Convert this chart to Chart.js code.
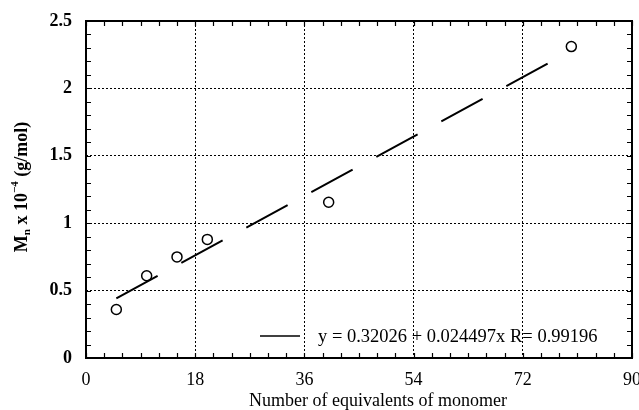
<!DOCTYPE html>
<html>
<head>
<meta charset="utf-8">
<script src="https://cdn.jsdelivr.net/npm/chart.js@4"></script>
<style>
  html, body { margin: 0; padding: 0; background: #fff; }
  #wrap { width: 639px; height: 410px; }
</style>
</head>
<body>
<div id="wrap"><canvas id="c" width="639" height="410"></canvas></div>
<script>
// ---- data ----
const equivalents = [5, 10, 15, 20, 40, 80];
const mnValues = [0.36, 0.61, 0.75, 0.88, 1.155, 2.31];
const fitX = [5, 80];
const fitY = [0.443, 2.28];
const xTickValues = [0, 18, 36, 54, 72, 90];
const yTickValues = [0, 0.5, 1, 1.5, 2, 2.5];
const yTickLabels = ['0', '0.5', '1', '1.5', '2', '2.5'];
const fitLabel = 'y = 0.32026 + 0.024497x R= 0.99196';
const xTitle = 'Number of equivalents of monomer';

const FONT = '"Liberation Serif", "Times New Roman", serif';

const pointData = equivalents.map((x, i) => ({ x: x, y: mnValues[i] }));
const fitData = fitX.map((x, i) => ({ x: x, y: fitY[i] }));

const decor = {
  id: 'decor',
  afterDraw(chart) {
    const ctx = chart.ctx;
    const a = chart.chartArea;
    const xs = chart.scales.x, ys = chart.scales.y;
    ctx.save();
    ctx.strokeStyle = '#000';
    // minor ticks (inward) on all four sides
    ctx.lineWidth = 1.2;
    ctx.beginPath();
    for (let i = 0; i <= 25; i++) {
      const py = Math.round(ys.getPixelForValue(i / 10)) + 0.5;
      ctx.moveTo(a.left, py); ctx.lineTo(a.left + 5, py);
      ctx.moveTo(a.right, py); ctx.lineTo(a.right - 5, py);
    }
    for (let i = 0; i <= 30; i++) {
      const px = Math.round(xs.getPixelForValue(i * 3)) + 0.5;
      ctx.moveTo(px, a.bottom); ctx.lineTo(px, a.bottom - 5);
      ctx.moveTo(px, a.top); ctx.lineTo(px, a.top + 5);
    }
    ctx.stroke();
    // frame
    ctx.lineWidth = 2;
    ctx.strokeRect(a.left, a.top, a.right - a.left, a.bottom - a.top);

    // legend sample + text
    ctx.lineWidth = 1.6;
    ctx.beginPath();
    ctx.moveTo(260, 336); ctx.lineTo(300, 336);
    ctx.stroke();
    ctx.fillStyle = '#000';
    ctx.font = '18.5px ' + FONT;
    ctx.textAlign = 'left';
    ctx.textBaseline = 'middle';
    ctx.fillText(fitLabel, 318, 337);

    // x title
    ctx.font = '18px ' + FONT;
    ctx.textAlign = 'center';
    ctx.fillText(xTitle, 378, 401);

    // y title: M_n x 10^-4 (g/mol), rotated
    const parts = [
      { t: 'M', f: 'bold 18px ', dy: 0 },
      { t: 'n', f: 'bold 11px ', dy: 5 },
      { t: ' x 10', f: 'bold 18px ', dy: 0 },
      { t: '\u22124', f: 'bold 11px ', dy: -7 },
      { t: ' (g/mol)', f: 'bold 18px ', dy: 0 }
    ];
    let total = 0;
    parts.forEach(p => { ctx.font = p.f + FONT; p.w = ctx.measureText(p.t).width; total += p.w; });
    ctx.translate(22, 187);
    ctx.rotate(-Math.PI / 2);
    ctx.textAlign = 'left';
    ctx.textBaseline = 'middle';
    let cx = -total / 2;
    parts.forEach(p => { ctx.font = p.f + FONT; ctx.fillText(p.t, cx, p.dy); cx += p.w; });
    ctx.restore();
  }
};

new Chart(document.getElementById('c'), {
  type: 'scatter',
  data: {
    datasets: [
      {
        data: pointData,
        pointStyle: 'circle',
        pointRadius: 5,
        pointBorderWidth: 1.5,
        borderColor: '#000',
        backgroundColor: 'rgba(0,0,0,0)',
        showLine: false
      },
      {
        data: fitData,
        showLine: true,
        pointRadius: 0,
        borderColor: '#000',
        borderWidth: 2,
        borderDash: [47, 27],
        fill: false
      }
    ]
  },
  options: {
    responsive: false,
    animation: false,
    devicePixelRatio: 1,
    layout: { padding: { left: 0, right: 7, top: 21, bottom: 0 } },
    plugins: { legend: { display: false }, tooltip: { enabled: false } },
    scales: {
      x: {
        type: 'linear',
        min: 0, max: 90,
        afterBuildTicks(s) { s.ticks = xTickValues.map(v => ({ value: v })); },
        afterFit(s) { s.height = 52; s.paddingLeft = 0; s.paddingRight = 0; },
        grid: { color: '#000', lineWidth: 1, drawTicks: false },
        border: { display: false, dash: [2, 2] },
        ticks: { color: '#000', padding: 11, maxRotation: 0, font: { family: FONT, size: 18 },
                 callback: (v) => String(xTickValues[xTickValues.indexOf(v)]) }
      },
      y: {
        type: 'linear',
        min: 0, max: 2.5,
        afterBuildTicks(s) { s.ticks = yTickValues.map(v => ({ value: v })); },
        afterFit(s) { s.width = 86; s.paddingTop = 0; s.paddingBottom = 0; },
        grid: { color: '#000', lineWidth: 1, drawTicks: false },
        border: { display: false, dash: [2, 2] },
        ticks: { color: '#000', padding: 14, font: { family: FONT, size: 18, weight: 'bold' },
                 callback: (v) => yTickLabels[yTickValues.indexOf(v)] }
      }
    }
  },
  plugins: [decor]
});
</script>
</body>
</html>
